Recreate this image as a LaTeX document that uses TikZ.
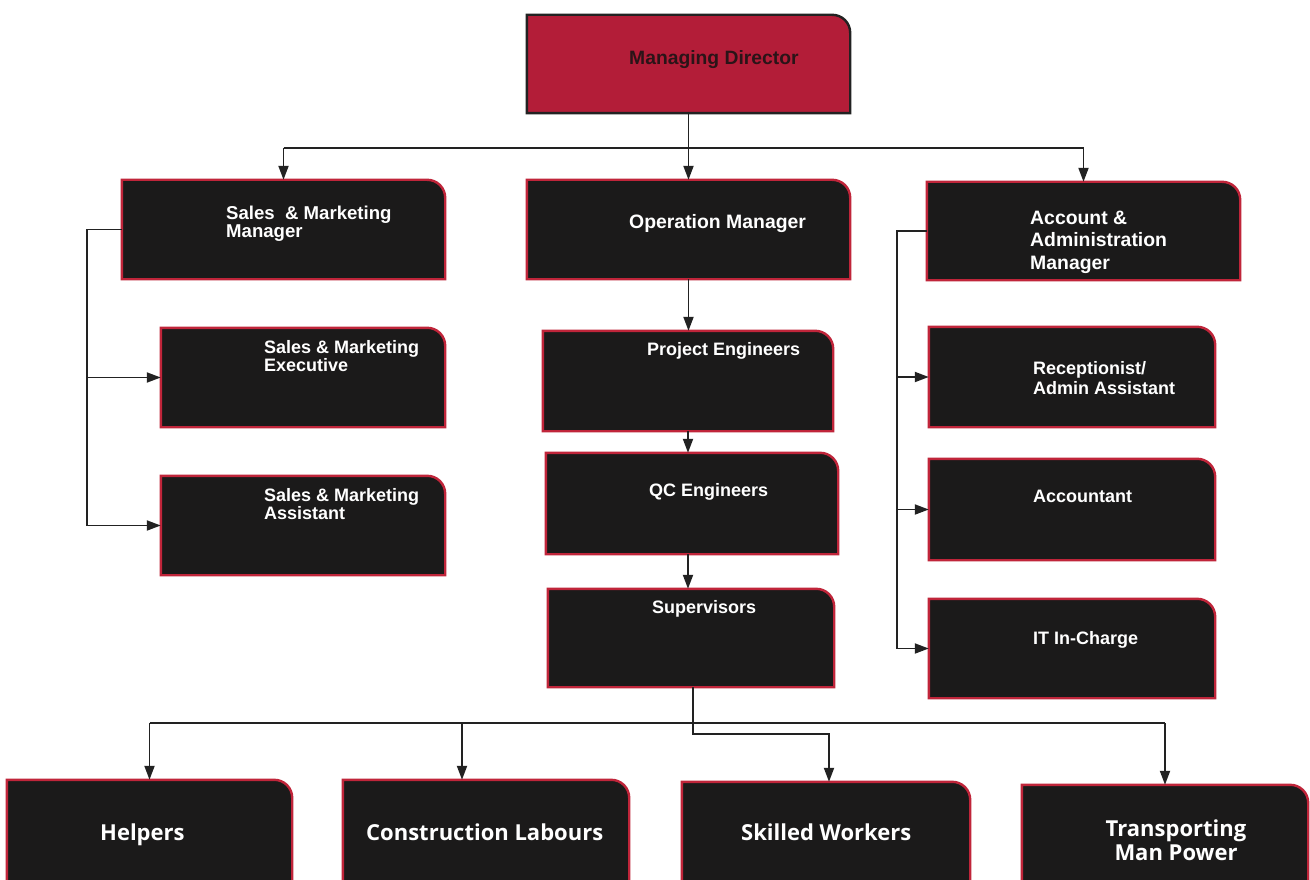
\documentclass[tikz,border=0pt]{standalone}
\usepackage{fontspec}
\setmainfont{Liberation Sans}
\newfontfamily\osans{Open Sans}
\usetikzlibrary{arrows.meta,backgrounds,calc}
\definecolor{mdred}{HTML}{B31D38}
\definecolor{bxred}{HTML}{C0253A}
\definecolor{bxblack}{HTML}{1B1A1A}
\definecolor{mdtext}{HTML}{2A1418}
\definecolor{linec}{HTML}{222222}
\newcommand{\rbox}[3]{%
  \path[fill=#2,draw=#3,line width=2.4pt]
    (#1.south west) -- (#1.north west) -- ([xshift=-18pt]#1.north east)
    .. controls ([xshift=-8pt]#1.north east) and ([yshift=-8pt]#1.north east) ..
    ([yshift=-18pt]#1.north east) -- (#1.south east) -- cycle;}
\begin{document}
\begin{tikzpicture}[x=1pt,y=-1pt,
  frame/.style={draw=none,inner sep=0pt,minimum width=#1},
  txt/.style={text=white,inner sep=0pt,align=left,font=\bfseries\fontsize{18}{19}\selectfont},
  btxt/.style={text=white,inner sep=0pt,align=center,font=\osans\bfseries\fontsize{22}{24}\selectfont},
  conn/.style={draw=linec,line width=1.9pt},
  arr/.style={conn,-{Triangle[length=14pt,width=10pt]}}]
\useasboundingbox (0,0) rectangle (1310,880);
\clip (0,0) rectangle (1310,880);
% box frames
\node[frame=323pt,minimum height=98pt] (md) at (688.5,64) {};
\node[frame=323pt,minimum height=99pt] (sm) at (283.5,229.5) {};
\node[frame=323pt,minimum height=99pt] (om) at (688.5,229.5) {};
\node[frame=313pt,minimum height=98pt] (am) at (1083.5,231) {};
\node[frame=284pt,minimum height=99pt] (se) at (303,377.5) {};
\node[frame=284pt,minimum height=99pt] (sa) at (303,525.5) {};
\node[frame=290pt,minimum height=100pt] (pe) at (688,381) {};
\node[frame=292pt,minimum height=101pt] (qc) at (692,503.5) {};
\node[frame=286pt,minimum height=98pt] (su) at (691,638) {};
\node[frame=286pt,minimum height=100pt] (re) at (1072,377) {};
\node[frame=286pt,minimum height=101pt] (ac) at (1072,509.5) {};
\node[frame=286pt,minimum height=99pt] (it) at (1072,648.5) {};
\node[frame=285pt,minimum height=120pt] (he) at (149.5,840) {};
\node[frame=286pt,minimum height=120pt] (cl) at (486,840) {};
\node[frame=288pt,minimum height=118pt] (sw) at (826,841) {};
\node[frame=286pt,minimum height=115pt] (tm) at (1165,842.5) {};
\begin{scope}[on background layer]
  \fill[white] (0,0) rectangle (1310,880);
  \rbox{md}{mdred}{linec}
  \foreach \b in {sm,om,am,se,sa,pe,qc,su,re,ac,it,he,cl,sw,tm}{\rbox{\b}{bxblack}{bxred}}
\end{scope}
% texts
\node[txt,anchor=base west,text=mdtext,font=\bfseries\fontsize{19.3}{20}\selectfont] (mdt) at (629,64.3) {Managing Director};
\node[txt,anchor=base west,font=\bfseries\fontsize{19.4}{20}\selectfont] (omt) at (629,228) {Operation Manager};
\node[txt,anchor=north west,font=\bfseries\fontsize{18.6}{17.5}\selectfont] (smt) at (226,206) {Sales\ \ \& Marketing\\Manager};
\node[txt,anchor=north west,font=\bfseries\fontsize{18}{18.3}\selectfont] (set) at (264,340) {Sales \& Marketing\\Executive};
\node[txt,anchor=north west,font=\bfseries\fontsize{18}{18.3}\selectfont] (sat) at (264,488) {Sales \& Marketing\\Assistant};
\node[txt,anchor=north west,font=\bfseries\fontsize{19.4}{22.3}\selectfont] (amt) at (1030,211) {Account \&\\Administration\\Manager};
\node[txt,anchor=base west] (pet) at (647,355) {Project Engineers};
\node[txt,anchor=base west] (qct) at (649,496.7) {QC Engineers};
\node[txt,anchor=base west] (sut) at (652,613) {Supervisors};
\node[txt,anchor=north west,font=\bfseries\fontsize{18}{20}\selectfont] (ret) at (1033,361) {Receptionist/\\Admin Assistant};
\node[txt,anchor=base west] (act) at (1033,502.7) {Accountant};
\node[txt,anchor=base west] (itt) at (1033,644) {IT In-Charge};
\node[btxt,anchor=base west] (het) at (100,840) {Helpers};
\node[btxt,anchor=base west] (clt) at (366,840) {Construction Labours};
\node[btxt,anchor=base west] (swt) at (741,840) {Skilled Workers};
\node[btxt,anchor=north] (tmt) at (1176,820) {Transporting\\Man Power};
% connector helpers
\coordinate (bus1) at (0,148);
\coordinate (bus2) at (0,723);
\coordinate (lx) at (87,0);
\coordinate (rx) at (897,0);
% top level
\draw[arr] (md.south) -- (om.north);
\draw[conn] (sm.north |- bus1) -- (am.north |- bus1);
\draw[arr] (sm.north |- bus1) -- (sm.north);
\draw[arr] (am.north |- bus1) -- (am.north);
% sales column
\draw[conn] (sm.west) -- (sm.west -| lx) -- (sa.west -| lx);
\draw[arr] (se.west -| lx) -- (se.west);
\draw[arr] (sa.west -| lx) -- (sa.west);
% account column
\draw[conn] (am.west) -- (am.west -| rx) -- (it.west -| rx);
\draw[arr] (re.west -| rx) -- (re.west);
\draw[arr] (ac.west -| rx) -- (ac.west);
\draw[arr] (it.west -| rx) -- (it.west);
% operations chain
\draw[arr] (om.south) -- (om.south |- pe.north);
\draw[arr] (pe.south) -- (pe.south |- qc.north);
\draw[arr] (qc.south -| pe.south) -- (pe.south |- su.north);
% bottom level
\draw[conn] (he.north |- bus2) -- (tm.north |- bus2);
\draw[arr] (he.north |- bus2) -- (he.north);
\draw[arr] ([xshift=-24pt]cl.north |- bus2) -- ([xshift=-24pt]cl.north);
\draw[arr] (tm.north |- bus2) -- (tm.north);
\draw[arr] ([xshift=2pt]su.south) -- ++(0,47) -| ([xshift=3pt]sw.north);
\end{tikzpicture}
\end{document}
